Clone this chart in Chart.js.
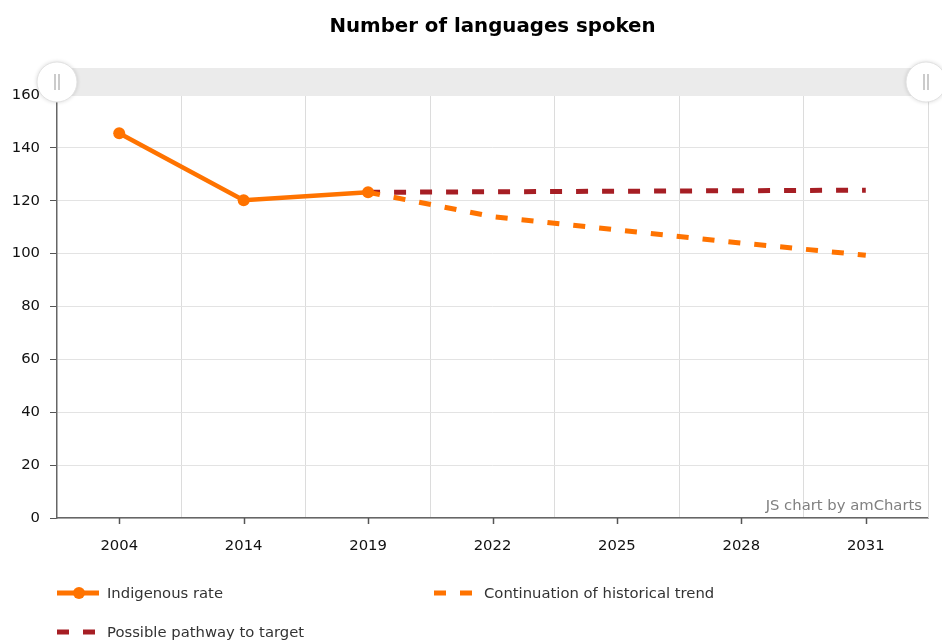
<!DOCTYPE html>
<html>
<head>
<meta charset="utf-8">
<script src="https://cdn.jsdelivr.net/npm/chart.js@4/dist/chart.umd.min.js"></script>
<style>
  body { margin: 0; background: #fff; }
  #wrap { width: 942px; height: 641px; }
</style>
</head>
<body>
<div id="wrap"><canvas id="chart" width="942" height="641"></canvas></div>
<script>
var years = ['2004', '2014', '2019', '2022', '2025', '2028', '2031'];
var indigenousRate = [145.5, 120.2, 123.2, null, null, null, null];
var historicalTrend = [null, null, 123.2, 114, 109, 104, 99.4];
var pathwayToTarget = [null, null, 123.2, 123.4, 123.6, 123.8, 124];
var yTicks = [0, 20, 40, 60, 80, 100, 120, 140, 160];

var orange = '#ff7300';
var darkRed = '#a61e24';
var font = '"DejaVu Sans", Verdana, sans-serif';

// scrollbar, centred x ticks, title, watermark, legend
var extras = {
  id: 'extras',
  afterDraw: function(chart) {
    var ctx = chart.ctx;
    var area = chart.chartArea;
    var xs = chart.scales.x;

    ctx.save();
    // tick marks in the middle of each category
    ctx.strokeStyle = '#555';
    ctx.lineWidth = 1.5;
    years.forEach(function(y, i) {
      var px = Math.round(xs.getPixelForValue(i)) + 0.5;
      ctx.beginPath();
      ctx.moveTo(px, area.bottom);
      ctx.lineTo(px, area.bottom + 6);
      ctx.stroke();
    });

    // right border
    ctx.strokeStyle = '#dcdcdc';
    ctx.lineWidth = 1;
    ctx.beginPath();
    ctx.moveTo(area.right + 0.5, area.top);
    ctx.lineTo(area.right + 0.5, area.bottom);
    ctx.stroke();

    // scrollbar
    ctx.fillStyle = '#ebebeb';
    ctx.fillRect(area.left, 68, area.right - area.left, 28);
    [area.left, area.right - 2].forEach(function(cx) {
      ctx.save();
      ctx.shadowColor = 'rgba(0,0,0,0.18)';
      ctx.shadowBlur = 4;
      ctx.fillStyle = '#fff';
      ctx.beginPath();
      ctx.arc(cx, 82, 20, 0, Math.PI * 2);
      ctx.fill();
      ctx.restore();
      ctx.strokeStyle = '#e2e2e2';
      ctx.lineWidth = 1;
      ctx.stroke();
      ctx.strokeStyle = '#bbb';
      ctx.lineWidth = 1.5;
      ctx.beginPath();
      ctx.moveTo(cx - 2, 74); ctx.lineTo(cx - 2, 90);
      ctx.moveTo(cx + 2, 74); ctx.lineTo(cx + 2, 90);
      ctx.stroke();
    });

    // title
    ctx.fillStyle = '#000';
    ctx.font = 'bold 19.8px ' + font;
    ctx.textAlign = 'center';
    ctx.textBaseline = 'middle';
    ctx.fillText('Number of languages spoken', (area.left + area.right) / 2, 26.5);

    // watermark
    ctx.fillStyle = '#808080';
    ctx.font = '14.8px ' + font;
    ctx.textAlign = 'right';
    ctx.fillText('JS chart by amCharts', area.right - 6, 506.5);

    // legend
    var slots = [[57, 593], [434, 593], [57, 632]];
    chart.data.datasets.forEach(function(ds, i) {
      var sx = slots[i][0], sy = slots[i][1];
      ctx.strokeStyle = ds.borderColor;
      ctx.lineWidth = 5;
      ctx.setLineDash(ds.borderDash || []);
      ctx.beginPath();
      ctx.moveTo(sx, sy);
      ctx.lineTo(sx + 42, sy);
      ctx.stroke();
      ctx.setLineDash([]);
      if (ds.pointRadius > 0) {
        ctx.fillStyle = ds.borderColor;
        ctx.beginPath();
        ctx.arc(sx + 22, sy, 6, 0, Math.PI * 2);
        ctx.fill();
      }
      ctx.fillStyle = '#333';
      ctx.font = '14.8px ' + font;
      ctx.textAlign = 'left';
      ctx.textBaseline = 'middle';
      ctx.fillText(ds.label, sx + 50, sy + 1);
    });
    ctx.restore();
  }
};

new Chart(document.getElementById('chart'), {
  type: 'line',
  data: {
    labels: years,
    datasets: [
      {
        label: 'Indigenous rate',
        data: indigenousRate,
        borderColor: orange,
        backgroundColor: orange,
        borderWidth: 4.5,
        pointRadius: 6,
        pointHoverRadius: 6,
        pointBackgroundColor: orange,
        pointBorderWidth: 0,
        tension: 0
      },
      {
        label: 'Continuation of historical trend',
        data: historicalTrend,
        borderColor: orange,
        backgroundColor: orange,
        borderWidth: 5,
        borderDash: [12, 14],
        pointRadius: 0,
        tension: 0
      },
      {
        label: 'Possible pathway to target',
        data: pathwayToTarget,
        borderColor: darkRed,
        backgroundColor: darkRed,
        borderWidth: 5,
        borderDash: [12, 14],
        pointRadius: 0,
        tension: 0
      }
    ]
  },
  options: {
    responsive: false,
    devicePixelRatio: 1,
    animation: false,
    layout: { padding: { top: 95, right: 14, left: 0, bottom: 0 } },
    plugins: {
      legend: { display: false },
      title: { display: false },
      tooltip: { enabled: false }
    },
    scales: {
      x: {
        offset: true,
        afterFit: function(s) { s.height = 123; },
        grid: { offset: true, color: '#dcdcdc', drawTicks: false },
        border: { color: '#666', width: 1.5 },
        ticks: { padding: 19, color: '#111', font: { family: font, size: 14.8 } }
      },
      y: {
        min: 0,
        max: 160,
        afterFit: function(s) { s.width = 57; },
        afterBuildTicks: function(s) { s.ticks = yTicks.map(function(v) { return { value: v }; }); },
        grid: { color: '#e3e3e3', tickColor: '#555', tickLength: 7 },
        border: { color: '#666', width: 1.5 },
        ticks: { padding: 10, color: '#111', font: { family: font, size: 14.8 } }
      }
    }
  },
  plugins: [extras]
});
</script>
</body>
</html>
